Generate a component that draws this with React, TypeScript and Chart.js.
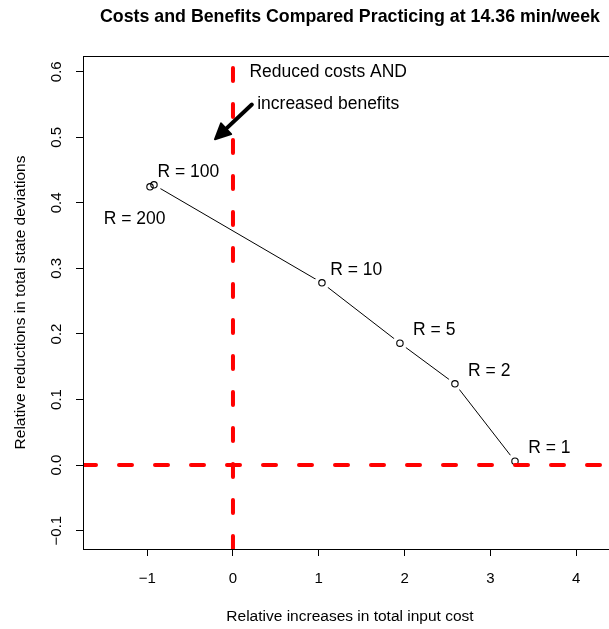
import { useEffect, useRef } from "react";
import { Chart, registerables } from "chart.js";

Chart.register(...registerables);

// ---- data ----
const rValues = [200, 100, 10, 5, 2, 1];
const costIncrease = [-0.967, -0.921, 1.037, 1.946, 2.587, 3.287];
const deviationReduction = [0.4244, 0.4275, 0.278, 0.186, 0.124, 0.006];
const pointLabels = rValues.map((r) => `R = ${r}`);
const labelShiftX = [-0.18, 0.4, 0.4, 0.4, 0.4, 0.4];
const labelShiftY = [-0.05, 0.02, 0.02, 0.02, 0.02, 0.02];

const xTicks = [-1, 0, 1, 2, 3, 4];
const yTicks = [-0.1, 0, 0.1, 0.2, 0.3, 0.4, 0.5, 0.6];
const X_MIN = -1.748;
const X_MAX = 4.476;
const Y_MIN = -0.128;
const Y_MAX = 0.624;

const titleText = "Costs and Benefits Compared Practicing at 14.36 min/week";
const xTitle = "Relative increases in total input cost";
const yTitle = "Relative reductions in total state deviations";
const noteLines = ["Reduced costs AND", "increased benefits"];
const noteX = 1.11;
const noteY = [0.6, 0.55];
const arrowFrom = { x: 0.22, y: 0.55 };
const arrowTo = { x: -0.21, y: 0.497 };

const FONT = "'Liberation Sans', Arial, Helvetica, sans-serif";
const fmt = (v: number, d: number) => v.toFixed(d).replace("-", "\u2212");

export default function App() {
  const ref = useRef<HTMLCanvasElement | null>(null);

  useEffect(() => {
    document.body.style.margin = "0";
    const canvas = ref.current!;
    const pts = costIncrease.map((x, i) => ({ x, y: deviationReduction[i] }));

    const annotate = {
      id: "annotate",
      afterDatasetsDraw(chart: any) {
        const { ctx, chartArea, scales } = chart;
        const sx = scales.x, sy = scales.y;
        ctx.save();
        // box
        ctx.strokeStyle = "#000";
        ctx.lineWidth = 1;
        ctx.strokeRect(
          Math.round(chartArea.left) + 0.5,
          Math.round(chartArea.top) + 0.5,
          Math.round(chartArea.right - chartArea.left),
          Math.round(chartArea.bottom - chartArea.top)
        );
        // point labels
        ctx.fillStyle = "#000";
        ctx.font = `17.5px ${FONT}`;
        ctx.textAlign = "center";
        ctx.textBaseline = "middle";
        pointLabels.forEach((t, i) => {
          ctx.fillText(
            t,
            sx.getPixelForValue(costIncrease[i] + labelShiftX[i]),
            sy.getPixelForValue(deviationReduction[i] + labelShiftY[i])
          );
        });
        // notes
        noteLines.forEach((t, i) => {
          ctx.fillText(t, sx.getPixelForValue(noteX), sy.getPixelForValue(noteY[i]));
        });
        // arrow
        const x0 = sx.getPixelForValue(arrowFrom.x), y0 = sy.getPixelForValue(arrowFrom.y);
        const x1 = sx.getPixelForValue(arrowTo.x), y1 = sy.getPixelForValue(arrowTo.y);
        const ang = Math.atan2(y1 - y0, x1 - x0);
        const hl = 17, ha = Math.PI / 7;
        ctx.strokeStyle = "#000";
        ctx.lineWidth = 4;
        ctx.lineCap = "round";
        ctx.beginPath();
        ctx.moveTo(x0, y0);
        ctx.lineTo(x1 - Math.cos(ang) * 6, y1 - Math.sin(ang) * 6);
        ctx.stroke();
        ctx.beginPath();
        ctx.moveTo(x1, y1);
        ctx.lineTo(x1 - hl * Math.cos(ang - ha), y1 - hl * Math.sin(ang - ha));
        ctx.lineTo(x1 - hl * Math.cos(ang + ha), y1 - hl * Math.sin(ang + ha));
        ctx.closePath();
        ctx.fillStyle = "#000";
        ctx.lineJoin = "round";
        ctx.lineWidth = 2;
        ctx.fill();
        ctx.stroke();
        // title
        ctx.font = `bold 17.8px ${FONT}`;
        ctx.fillStyle = "#000";
        ctx.fillText(titleText, (chartArea.left + chartArea.right) / 2, 17);
        ctx.restore();
      },
    };

    const chart = new Chart(canvas, {
      type: "scatter",
      data: {
        datasets: [
          {
            data: pts,
            showLine: true,
            borderColor: "#000",
            borderWidth: 1,
            pointRadius: 0,
            order: 5,
          },
          {
            data: pts,
            showLine: false,
            pointRadius: 7.5,
            pointBorderWidth: 0,
            pointBackgroundColor: "#fff",
            pointBorderColor: "#fff",
            order: 4,
          },
          {
            data: pts,
            showLine: false,
            pointRadius: 3.2,
            pointBorderWidth: 1.1,
            pointBackgroundColor: "rgba(0,0,0,0)",
            pointBorderColor: "#000",
            order: 3,
          },
          {
            data: [
              { x: X_MIN, y: 0 },
              { x: X_MAX, y: 0 },
            ],
            showLine: true,
            borderColor: "#ff0000",
            borderWidth: 4,
            borderDash: [13, 23],
            borderCapStyle: "round",
            pointRadius: 0,
            order: 2,
          },
          {
            data: [
              { x: 0, y: Y_MIN },
              { x: 0, y: Y_MAX },
            ],
            showLine: true,
            borderColor: "#ff0000",
            borderWidth: 4,
            borderDash: [13, 23],
            borderCapStyle: "round",
            pointRadius: 0,
            order: 1,
          },
        ],
      },
      options: {
        responsive: false,
        animation: false,
        devicePixelRatio: 1,
        events: [],
        layout: { padding: { top: 56, right: 8, left: 0, bottom: 0 } },
        plugins: { legend: { display: false }, tooltip: { enabled: false } },
        scales: {
          x: {
            type: "linear",
            min: X_MIN,
            max: X_MAX,
            afterBuildTicks: (s: any) => {
              s.ticks = xTicks.map((v) => ({ value: v }));
            },
            afterFit: (s: any) => {
              s.height = 80;
            },
            border: { display: false },
            grid: { drawOnChartArea: false, drawTicks: true, tickLength: 7, color: "#000", lineWidth: 1 },
            ticks: {
              autoSkip: false,
              maxRotation: 0,
              padding: 14,
              color: "#000",
              font: { family: FONT, size: 15 },
              callback: (v: any) => fmt(Number(v), 0),
            },
            title: {
              display: true,
              text: xTitle,
              color: "#000",
              font: { family: FONT, size: 15.5 },
              padding: { top: 0, bottom: 3 },
            },
          },
          y: {
            type: "linear",
            min: Y_MIN,
            max: Y_MAX,
            afterBuildTicks: (s: any) => {
              s.ticks = yTicks.map((v) => ({ value: v }));
            },
            afterFit: (s: any) => {
              s.width = 83;
            },
            border: { display: false },
            grid: { drawOnChartArea: false, drawTicks: true, tickLength: 7, color: "#000", lineWidth: 1 },
            ticks: {
              autoSkip: false,
              minRotation: 90,
              maxRotation: 90,
              crossAlign: "center",
              padding: 4,
              color: "#000",
              font: { family: FONT, size: 15 },
              callback: (v: any) => fmt(Number(v), 1),
            },
            title: {
              display: true,
              text: yTitle,
              color: "#000",
              font: { family: FONT, size: 15.5 },
              padding: { top: 11, bottom: 0 },
            },
          },
        },
      },
      plugins: [annotate],
    } as any);

    return () => chart.destroy();
  }, []);

  return (
    <div style={{ position: "fixed", left: 0, top: 0, width: 609, height: 629, overflow: "hidden", background: "#fff" }}>
      <canvas ref={ref} width={625} height={629} style={{ display: "block", width: 625, height: 629 }} />
    </div>
  );
}
